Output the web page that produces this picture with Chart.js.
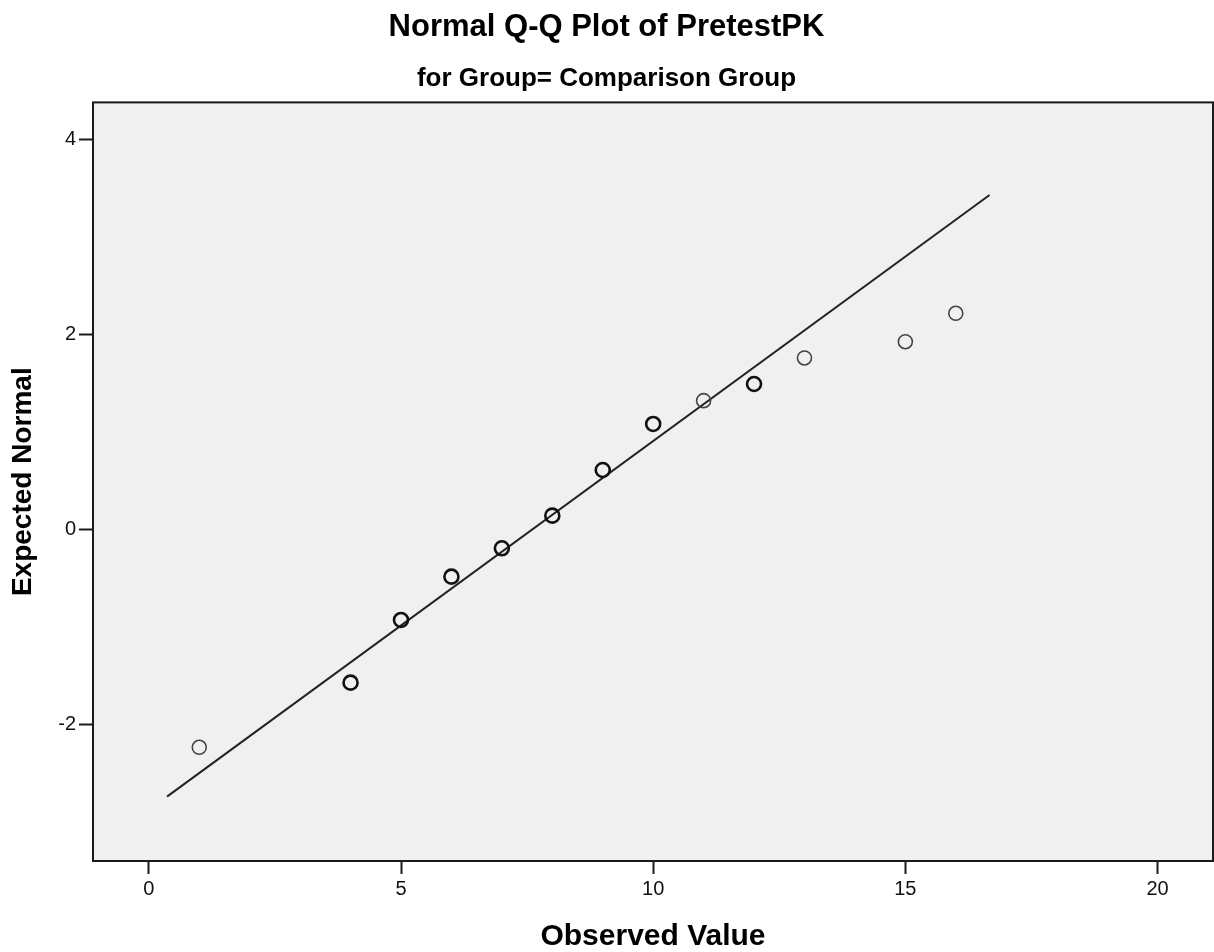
<!DOCTYPE html>
<html>
<head>
<meta charset="utf-8">
<title>Normal Q-Q Plot of PretestPK</title>
<script src="https://cdn.jsdelivr.net/npm/chart.js@4.4.1/dist/chart.umd.min.js"></script>
<style>
  html, body { margin: 0; padding: 0; background: #fff; }
  canvas { display: block; }
</style>
</head>
<body>
<canvas id="qq-chart" width="1214" height="952"></canvas>
<script>
// Observed PretestPK values and their expected normal quantiles
const observed = [1, 4, 5, 6, 7, 8, 9, 10, 11, 12, 13, 15, 16];
const expectedNormal = [-2.229, -1.566, -0.923, -0.479, -0.188, 0.147, 0.615, 1.087, 1.326, 1.497, 1.764, 1.931, 2.222];
// values shared by more than one case (markers overprinted)
const tiedValues = [4, 5, 6, 7, 8, 9, 10, 12];

// reference line end points
const refLineX = [0.36, 16.67];
const refLineY = [-2.735, 3.436];

const xTicks = [0, 5, 10, 15, 20];
const yTicks = [-2, 0, 2, 4];

const FONT = "'Liberation Sans', Arial, sans-serif";
const INK = '#1a1a1a';

// Grey plot panel with a frame on all four sides
const plotFrame = {
  id: 'plotFrame',
  beforeDatasetsDraw(chart) {
    const { ctx, chartArea: a } = chart;
    ctx.save();
    ctx.fillStyle = '#f0f0f0';
    ctx.fillRect(a.left, a.top, a.right - a.left, a.bottom - a.top);
    ctx.strokeStyle = INK;
    ctx.lineWidth = 2;
    ctx.strokeRect(a.left, a.top, a.right - a.left, a.bottom - a.top);
    ctx.restore();
  }
};

function renderQQChart() {
  const ctx = document.getElementById('qq-chart');

  new Chart(ctx, {
    data: {
      datasets: [
        {
          type: 'line',
          data: refLineX.map((x, i) => ({ x, y: refLineY[i] })),
          borderColor: '#222',
          borderWidth: 2,
          pointRadius: 0,
          fill: false,
          order: 2
        },
        {
          type: 'scatter',
          data: observed.map((x, i) => ({ x, y: expectedNormal[i] })),
          backgroundColor: 'rgba(0, 0, 0, 0)',
          pointStyle: 'circle',
          pointRadius: 7,
          borderColor: (c) => tiedValues.includes(observed[c.dataIndex]) ? '#111' : '#444',
          borderWidth: (c) => tiedValues.includes(observed[c.dataIndex]) ? 2.6 : 1.6,
          order: 1
        }
      ]
    },
    options: {
      responsive: false,
      animation: false,
      layout: {
        autoPadding: false,
        padding: { left: 0, right: 1, top: 0, bottom: 0 }
      },
      plugins: {
        legend: { display: false },
        tooltip: { enabled: false },
        title: {
          display: true,
          text: 'Normal Q-Q Plot of PretestPK',
          color: '#000',
          font: { family: FONT, size: 31, weight: 'bold' },
          padding: { top: 9, bottom: 17 }
        },
        subtitle: {
          display: true,
          text: 'for Group= Comparison Group',
          color: '#000',
          font: { family: FONT, size: 26, weight: 'bold' },
          padding: { top: 0, bottom: 8 }
        }
      },
      scales: {
        x: {
          type: 'linear',
          min: -1.107,
          max: 21.1,
          afterFit: (scale) => {
            scale.height = 91;
            scale.paddingLeft = 0;
            scale.paddingRight = 0;
          },
          afterBuildTicks: (scale) => { scale.ticks = xTicks.map(v => ({ value: v })); },
          border: { display: false },
          grid: {
            drawOnChartArea: false,
            drawTicks: true,
            tickLength: 13,
            tickWidth: 2,
            tickColor: INK
          },
          ticks: {
            color: '#111',
            padding: 3,
            maxRotation: 0,
            font: { family: FONT, size: 20 }
          },
          title: {
            display: true,
            text: 'Observed Value',
            color: '#000',
            font: { family: FONT, size: 30, weight: 'bold', lineHeight: 1 },
            padding: { top: 4, bottom: 0 }
          }
        },
        y: {
          type: 'linear',
          min: -3.395,
          max: 4.385,
          afterFit: (scale) => {
            scale.width = 93;
            scale.paddingTop = 0;
            scale.paddingBottom = 0;
          },
          afterBuildTicks: (scale) => { scale.ticks = yTicks.map(v => ({ value: v })); },
          border: { display: false },
          grid: {
            drawOnChartArea: false,
            drawTicks: true,
            tickLength: 14,
            tickWidth: 2,
            tickColor: INK
          },
          ticks: {
            color: '#111',
            padding: 3,
            font: { family: FONT, size: 20 }
          },
          title: {
            display: true,
            text: 'Expected Normal',
            color: '#000',
            font: { family: FONT, size: 28, weight: 'bold' },
            padding: { top: 6, bottom: 0 }
          }
        }
      }
    },
    plugins: [plotFrame]
  });
}

renderQQChart();
</script>
</body>
</html>
